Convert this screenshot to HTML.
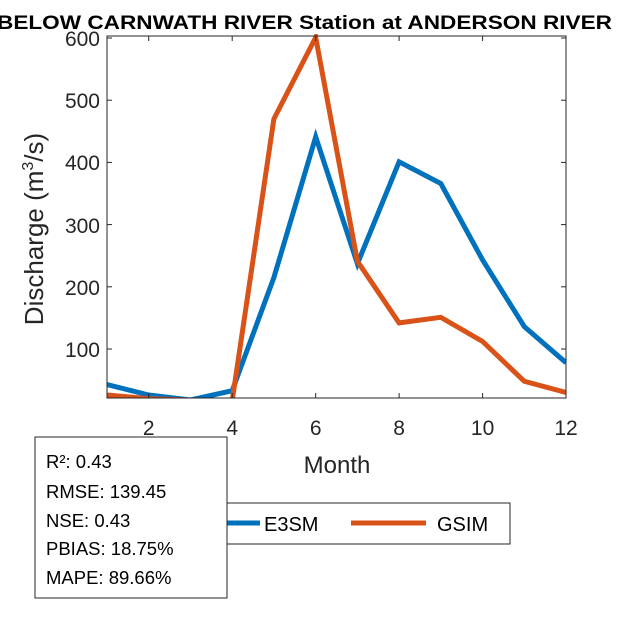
<!DOCTYPE html>
<html><head><style>body{margin:0;background:#fff}svg{display:block}text{font-family:"Liberation Sans",Arial,sans-serif;fill:#262626}</style></head><body>
<svg width="625" height="625" viewBox="0 0 625 625">
<defs><clipPath id="c"><rect x="107" y="34" width="459" height="364"/></clipPath></defs>
<text x="-3" y="29" font-size="19" font-weight="bold" textLength="615" lengthAdjust="spacingAndGlyphs" style="fill:#000">BELOW CARNWATH RIVER  Station at  ANDERSON RIVER</text>
<g clip-path="url(#c)" fill="none" stroke-width="5" stroke-linejoin="miter">
<polyline stroke="#0072BD" points="107,384.5 148.7,395 190.5,400 232.2,390.7 273.9,277.5 315.7,136.9 357.4,263.8 399.1,161.8 440.8,183.5 482.6,260 524.3,326.6 566,362.7"/>
<polyline stroke="#D95319" points="107,395 148.7,398.8 190.5,400 232.2,400.6 273.9,118.9 315.7,37.4 357.4,261.3 399.1,322.9 440.8,317.3 482.6,341.5 524.3,381.3 566,392.5"/>
</g>
<rect x="107" y="36" width="459" height="362" fill="none" stroke="#262626" stroke-width="1"/>
<g stroke="#262626" stroke-width="1">
<line x1="148.7" y1="398" x2="148.7" y2="393"/><line x1="232.2" y1="398" x2="232.2" y2="393"/><line x1="315.7" y1="398" x2="315.7" y2="393"/><line x1="399.1" y1="398" x2="399.1" y2="393"/><line x1="482.6" y1="398" x2="482.6" y2="393"/>
<line x1="148.7" y1="36" x2="148.7" y2="41"/><line x1="232.2" y1="36" x2="232.2" y2="41"/><line x1="315.7" y1="36" x2="315.7" y2="41"/><line x1="399.1" y1="36" x2="399.1" y2="41"/><line x1="482.6" y1="36" x2="482.6" y2="41"/>
<line x1="107" y1="349" x2="112" y2="349"/><line x1="107" y1="286.8" x2="112" y2="286.8"/><line x1="107" y1="224.6" x2="112" y2="224.6"/><line x1="107" y1="162.4" x2="112" y2="162.4"/><line x1="107" y1="100.2" x2="112" y2="100.2"/><line x1="107" y1="38" x2="112" y2="38"/>
<line x1="566" y1="349" x2="561" y2="349"/><line x1="566" y1="286.8" x2="561" y2="286.8"/><line x1="566" y1="224.6" x2="561" y2="224.6"/><line x1="566" y1="162.4" x2="561" y2="162.4"/><line x1="566" y1="100.2" x2="561" y2="100.2"/><line x1="566" y1="38" x2="561" y2="38"/>
</g>
<g font-size="21" text-anchor="end">
<text x="100" y="357">100</text><text x="100" y="295">200</text><text x="100" y="233">300</text><text x="100" y="170">400</text><text x="100" y="108">500</text><text x="100" y="46">600</text>
</g>
<g font-size="21" text-anchor="middle">
<text x="148.7" y="435">2</text><text x="232.2" y="435">4</text><text x="315.7" y="435">6</text><text x="399.1" y="435">8</text><text x="482.6" y="435">10</text><text x="566" y="435">12</text>
<text x="337" y="473" font-size="24">Month</text>
</g>
<text transform="translate(43,229) rotate(-90)" text-anchor="middle" font-size="26">Discharge (m<tspan font-size="16" dy="-10">3</tspan><tspan dy="10">/s)</tspan></text>
<rect x="225" y="503" width="285" height="41" fill="#fff" stroke="#262626"/>
<line x1="225" y1="523" x2="260" y2="523" stroke="#0072BD" stroke-width="5"/>
<text x="264" y="531" font-size="20" style="fill:#000">E3SM</text>
<line x1="351" y1="523" x2="426" y2="523" stroke="#D95319" stroke-width="5"/>
<text x="437" y="531" font-size="20" style="fill:#000">GSIM</text>
<rect x="35" y="437" width="192" height="161" fill="#fff" stroke="#262626"/>
<g font-size="18.5">
<text x="46" y="468" style="fill:#000">R²: 0.43</text>
<text x="46" y="498" style="fill:#000">RMSE: 139.45</text>
<text x="46" y="527" style="fill:#000">NSE: 0.43</text>
<text x="46" y="555" style="fill:#000">PBIAS: 18.75%</text>
<text x="46" y="584" style="fill:#000">MAPE: 89.66%</text>
</g>
</svg>
</body></html>
